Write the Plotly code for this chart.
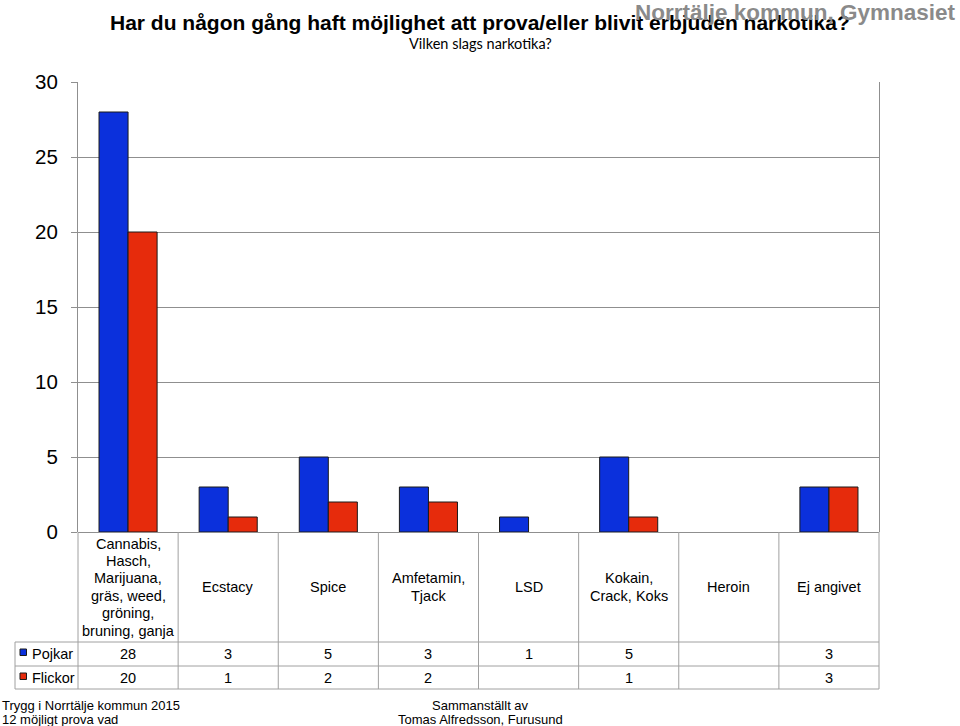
import plotly.graph_objects as go

# ---- data ----
categories = ["Cannabis", "Ecstacy", "Spice", "Amfetamin", "LSD", "Kokain", "Heroin", "Ej angivet"]
category_labels = [
    ["Cannabis,", "Hasch,", "Marijuana,", "gräs, weed,", "gröning,", "bruning, ganja"],
    ["Ecstacy"],
    ["Spice"],
    ["Amfetamin,", "Tjack"],
    ["LSD"],
    ["Kokain,", "Crack, Koks"],
    ["Heroin"],
    ["Ej angivet"],
]
series_names = ["Pojkar", "Flickor"]
pojkar = [28, 3, 5, 3, 1, 5, None, 3]
flickor = [20, 1, 2, 2, None, 1, None, 3]
y_ticks = [0, 5, 10, 15, 20, 25, 30]

title = "Har du någon gång haft möjlighet att prova/eller blivit erbjuden narkotika?"
subtitle = "Vilken slags narkotika?"
org = "Norrtälje kommun, Gymnasiet"
footer_left = ["Trygg i Norrtälje kommun 2015", "12 möjligt prova vad"]
footer_mid = ["Sammanställt av", "Tomas Alfredsson, Furusund"]

BLUE = "#0B30DC"
RED = "#E62B0C"
GRID = "#8f8f8f"
TBL = "#a0a0a0"

W, H = 960, 726
L, R, T, B = 78, 81, 82, 194
PW, PH = W - L - R, H - T - B


def px2x(px):
    return (px - L) / PW


def px2y(py):
    return (H - B - py) / PH


fig = go.Figure()
fig.add_trace(go.Bar(x=categories, y=pojkar, name=series_names[0], marker=dict(color=BLUE, line=dict(color="#1a1a1a", width=1))))
fig.add_trace(go.Bar(x=categories, y=flickor, name=series_names[1], marker=dict(color=RED, line=dict(color="#1a1a1a", width=1))))

n = len(categories)
shapes = []
row_tops = [642, 666, 689]
for i in range(n + 1):
    shapes.append(dict(type="line", xref="paper", yref="paper", x0=i / n, x1=i / n,
                       y0=0, y1=px2y(row_tops[-1]), line=dict(color=TBL, width=1)))
for rt in row_tops:
    shapes.append(dict(type="line", xref="paper", yref="paper", x0=px2x(15), x1=1,
                       y0=px2y(rt), y1=px2y(rt), line=dict(color=TBL, width=1)))
shapes.append(dict(type="line", xref="paper", yref="paper", x0=px2x(15), x1=px2x(15),
                   y0=px2y(row_tops[0]), y1=px2y(row_tops[-1]), line=dict(color=TBL, width=1)))
for k, col in enumerate([BLUE, RED]):
    top = row_tops[k] + 7
    shapes.append(dict(type="rect", xref="paper", yref="paper", x0=px2x(20), x1=px2x(26.5),
                       y0=px2y(top), y1=px2y(top + 6.5), fillcolor=col,
                       line=dict(color="#1a1a1a", width=1)))

ann = []
FONT = "Liberation Sans, Arial, sans-serif"
LINE = 17.4
row_centers = [(row_tops[0] + row_tops[1]) / 2, (row_tops[1] + row_tops[2]) / 2]
for i, c in enumerate(categories):
    lines = category_labels[i]
    y0 = 587 - (len(lines) - 1) * LINE / 2
    for j, ln in enumerate(lines):
        ann.append(dict(x=c, xref="x", y=px2y(y0 + j * LINE), yref="paper", text=ln,
                        showarrow=False, font=dict(family=FONT, size=14.5, color="#000"),
                        xanchor="center", yanchor="middle"))
    for k, vals in enumerate([pojkar, flickor]):
        v = vals[i]
        if v is None:
            continue
        ann.append(dict(x=c, xref="x", y=px2y(row_centers[k]), yref="paper", text=str(v),
                        showarrow=False, font=dict(family=FONT, size=14.5, color="#000"),
                        xanchor="center", yanchor="middle"))
for k, nm in enumerate(series_names):
    ann.append(dict(x=px2x(29.5), xref="paper", y=px2y(row_centers[k]), yref="paper", text=nm,
                    showarrow=False, font=dict(family=FONT, size=14.5, color="#000"),
                    xanchor="left", yanchor="middle"))

ann.append(dict(x=px2x(480), xref="paper", y=px2y(22), yref="paper", text="<b>" + title + "</b>",
                showarrow=False, font=dict(family="Liberation Sans Narrow, Arial Narrow, Liberation Sans, Arial", size=21, color="#000"),
                xanchor="center", yanchor="middle"))
ann.append(dict(x=px2x(480), xref="paper", y=px2y(44), yref="paper", text=subtitle,
                showarrow=False, font=dict(family="Lato, Carlito, Calibri, sans-serif", size=14.5, color="#000"),
                xanchor="center", yanchor="middle"))
ann.append(dict(x=px2x(958), xref="paper", y=px2y(12.5), yref="paper", text="<b>" + org + "</b>",
                showarrow=False, font=dict(family=FONT, size=22.5, color="#8a8a8a"),
                xanchor="right", yanchor="middle"))
for j, ln in enumerate(footer_left):
    ann.append(dict(x=px2x(0), xref="paper", y=px2y(705.5 + j * 13.5), yref="paper", text=ln,
                    showarrow=False, font=dict(family=FONT, size=13, color="#000"),
                    xanchor="left", yanchor="middle"))
for j, ln in enumerate(footer_mid):
    ann.append(dict(x=px2x(480), xref="paper", y=px2y(705.5 + j * 13.5), yref="paper", text=ln,
                    showarrow=False, font=dict(family=FONT, size=13, color="#000"),
                    xanchor="center", yanchor="middle"))

fig.update_layout(
    width=W, height=H,
    margin=dict(l=L, r=R, t=T, b=B, pad=0),
    paper_bgcolor="white", plot_bgcolor="white",
    barmode="group", bargap=0.42, bargroupgap=0,
    showlegend=False,
    shapes=shapes, annotations=ann,
    xaxis=dict(type="category", range=[-0.5, n - 0.5], showticklabels=False, showgrid=False,
               zeroline=False, showline=False, ticks=""),
    yaxis=dict(range=[0, 30], tickvals=y_ticks, ticktext=[str(v) for v in y_ticks],
               showgrid=True, gridcolor=GRID, gridwidth=1,
               zeroline=True, zerolinecolor=GRID, zerolinewidth=1,
               showline=True, linecolor=GRID, linewidth=1, mirror=True,
               ticks="outside", ticklen=6, tickcolor=GRID, ticklabelstandoff=9,
               tickfont=dict(family=FONT, size=20.5, color="#000")),
)

fig.write_html("out.html", config={"displayModeBar": False},
               post_script="document.body.style.margin='0';document.body.style.overflow='hidden';")
